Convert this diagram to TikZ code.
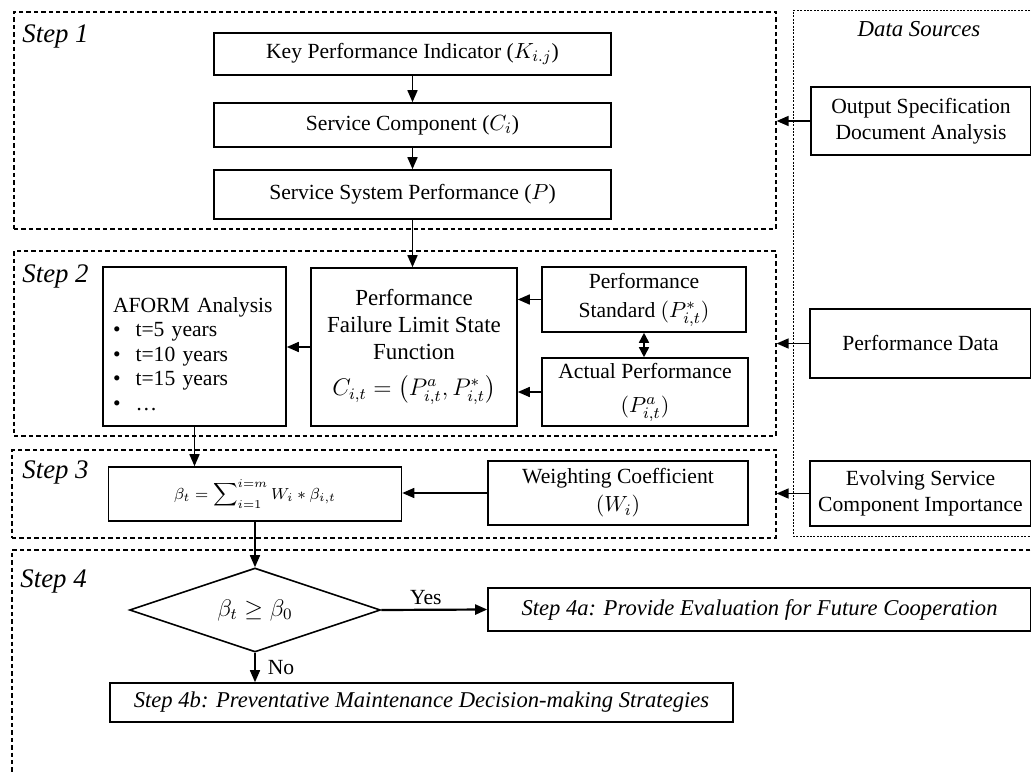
\documentclass[tikz,border=0pt]{standalone}
\usepackage{amsmath,amssymb}
\usepackage{fontspec}
\setmainfont{Liberation Serif}
\usetikzlibrary{shapes.geometric, arrows.meta, positioning}

\begin{document}
\begin{tikzpicture}[x=0.5pt, y=-0.5pt,
  box/.style={rectangle, draw, line width=0.8pt, align=center, inner sep=2pt,
              font=\fontsize{10.8}{13}\selectfont},
  stepframe/.style={rectangle, draw, line width=0.6pt, dash pattern=on 2.2pt off 1.5pt},
  srcframe/.style={rectangle, draw, line width=0.5pt, dash pattern=on 1pt off 0.7pt},
  steplab/.style={anchor=base west, inner sep=0pt, font=\fontsize{13.4}{16}\selectfont\itshape},
  arr/.style={-{Triangle[length=6pt, width=5pt]}, line width=0.8pt},
  dblarr/.style={{Triangle[length=5pt, width=5pt]}-{Triangle[length=5pt, width=5pt]}, line width=0.8pt},
  lab/.style={font=\fontsize{10.8}{13}\selectfont, inner sep=2pt}
]
\useasboundingbox (0,0) rectangle (1031,774);
\clip (0,0) rectangle (1031,774);
%% Dashed step frames and data source frame
\node[stepframe, minimum width=381pt, minimum height=108.5pt] (step1) at (395,120.5) {};
\node[stepframe, minimum width=381pt, minimum height=92.5pt] (step2) at (395,343.5) {};
\node[stepframe, minimum width=382pt, minimum height=44pt] (step3) at (394,494) {};
\node[stepframe, minimum width=514pt, minimum height=125pt] (step4) at (526,675) {};
\node[srcframe, minimum width=123.5pt, minimum height=262.5pt] (src) at (916.5,273.5) {};
\node[steplab] (lab1) at (22,43) {Step 1};
\node[steplab] (lab2) at (22,283) {Step 2};
\node[steplab] (lab3) at (22,478) {Step 3};
\node[steplab] (lab4) at (20,587) {Step 4};
\node[anchor=base, inner sep=0pt, font=\fontsize{11.4}{14}\selectfont\itshape] (srclab) at (919,37) {Data Sources};
%% Step 1
\node[box, minimum width=198.5pt, minimum height=21pt] (kpi) at (412.5,54) {Key Performance Indicator ($K_{i.j}$)};
\node[box, minimum width=198.5pt, minimum height=22pt] (comp) at (412.5,125) {Service Component ($C_i$)};
\node[box, minimum width=198.5pt, minimum height=24.5pt] (ssp) at (412.5,194.5) {Service System Performance ($P$)};
%% Data sources
\node[box, minimum width=110pt, minimum height=34pt] (osda) at (921,121) {Output Specification\\Document Analysis};
\node[box, minimum width=110.5pt, minimum height=34.5pt] (pdata) at (920.5,343.5) {Performance Data};
\node[box, minimum width=110.5pt, minimum height=32.5pt] (esci) at (920.5,493.5) {Evolving Service\\Component Importance};
%% Step 2
\node[box, minimum width=91.5pt, minimum height=79.5pt, text width=81.5pt, align=left, inner xsep=5pt,
      font=\fontsize{10.8}{12.3}\selectfont] (aform) at (194.5,346.5)
  {\rule{0pt}{15pt}AFORM Analysis\\ \textbullet\hspace{7.5pt}t=5 years\\ \textbullet\hspace{7.5pt}t=10 years\\
   \textbullet\hspace{7.5pt}t=15 years\\ \textbullet\hspace{7.5pt}\dots};
\node[box, minimum width=103pt, minimum height=79pt, font=\fontsize{11.5}{13.5}\selectfont] (pflsf) at (414,347)
  {Performance\\Failure Limit State\\Function\\[4.5pt]$C_{i,t}=\bigl(P^{a}_{i,t},P^{*}_{i,t}\bigr)$};
\node[box, minimum width=102pt, minimum height=32.5pt] (pstd) at (644,299.5) {Performance\\[1.5pt]Standard $(P^{*}_{i,t})$};
\node[box, minimum width=103pt, minimum height=34pt] (pact) at (645,392) {Actual Performance\\[4pt]$(P^{a}_{i,t})$};
%% Step 3
\node[box, minimum width=146.5pt, minimum height=27pt, font=\fontsize{8}{10}\selectfont] (beta) at (255,494)
  {$\beta_t=\displaystyle\sum\nolimits_{i=1}^{i=m}W_i*\beta_{i,t}$};
\node[box, minimum width=130pt, minimum height=32pt] (wcoef) at (618,493) {Weighting Coefficient\\[1pt]$(W_i)$};
%% Step 4
\node[diamond, draw, line width=0.8pt, aspect=3, minimum width=125.5pt, minimum height=42pt, inner sep=0pt,
      font=\fontsize{12}{14}\selectfont] (check) at (255,610) {$\beta_t\geq\beta_0$};
\node[box, minimum width=271.5pt, minimum height=21.5pt, font=\fontsize{11.3}{13}\selectfont\itshape] (s4a) at (759.5,609.5)
  {Step 4a: Provide Evaluation for Future Cooperation};
\node[box, minimum width=311.5pt, minimum height=19.5pt, font=\fontsize{11.3}{13}\selectfont\itshape] (s4b) at (421.5,702.5)
  {Step 4b: Preventative Maintenance Decision-making Strategies};
%% Connectors
\draw[arr] (kpi) -- (comp);
\draw[arr] (comp) -- (ssp);
\draw[arr] (ssp.south) -- (ssp.south |- pflsf.north);
\draw[arr] (osda.west) -- (osda.west -| step1.east);
\draw[arr] (pdata.west) -- (pdata.west -| step2.east);
\draw[arr] (esci.west) -- (esci.west -| step3.east);
\draw[arr] (pstd.west) -- (pstd.west -| pflsf.east);
\draw[arr] (pact.west) -- (pact.west -| pflsf.east);
\draw[dblarr] (pstd.south) -- (pstd.south |- pact.north);
\draw[arr] (pflsf.west) -- (pflsf.west -| aform.east);
\draw[arr] (aform.south) -- (aform.south |- beta.north);
\draw[arr] (wcoef.west) -- (wcoef.west -| beta.east);
\draw[arr] (beta) -- (check);
\draw[arr, line width=1.1pt] (check.east) -- node[lab, above, pos=0.42]{Yes} (s4a.west);
\draw[arr] (check.south) -- node[lab, right, xshift=4pt]{No} (check.south |- s4b.north);
\end{tikzpicture}
\end{document}
